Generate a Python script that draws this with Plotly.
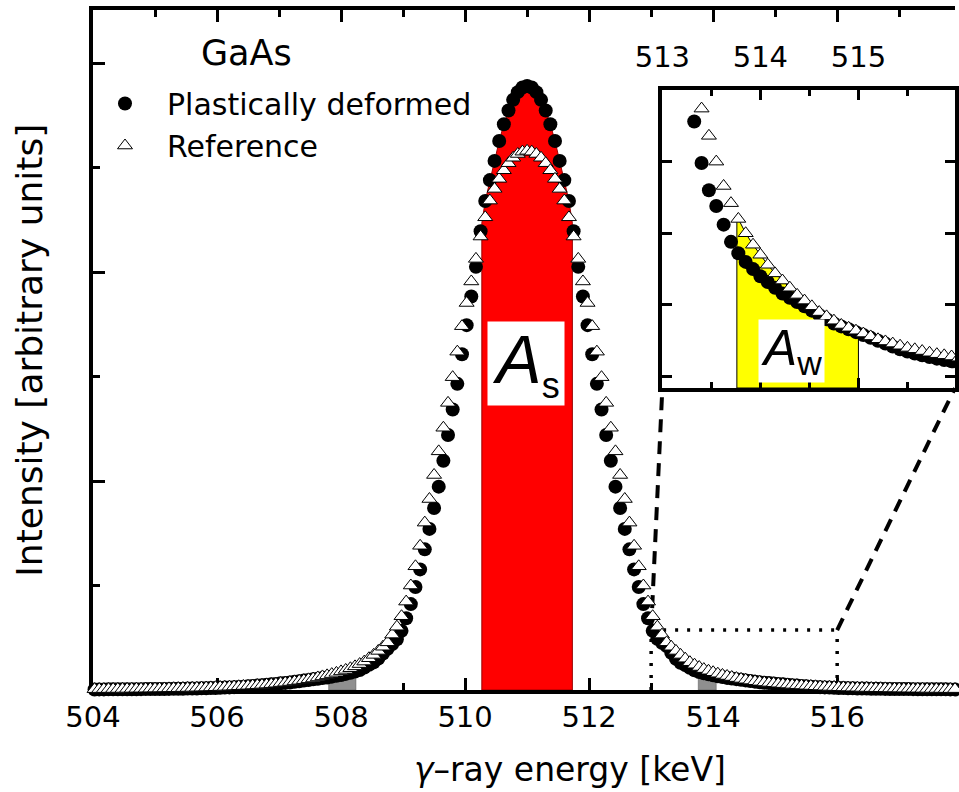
import numpy as np
import plotly.graph_objects as go

# ---------------- data ----------------
# uniform detector channel grid around the 511 keV annihilation line (keV)
channel_index = np.arange(-93, 94)
energy_kev = np.round(511.0 + 0.075 * channel_index, 3)

# Plastically deformed GaAs (filled circles)
deformed = [
    0.0027, 0.0028, 0.0029, 0.0030, 0.0031, 0.0032, 0.0034, 0.0035, 0.0036, 0.0038,
    0.0040, 0.0042, 0.0044, 0.0046, 0.0048, 0.0050, 0.0053, 0.0056, 0.0059, 0.0062,
    0.0066, 0.0070, 0.0075, 0.0080, 0.0085, 0.0091, 0.0098, 0.0106, 0.0115, 0.0125,
    0.0136, 0.0148, 0.0160, 0.0175, 0.019, 0.021, 0.023, 0.025, 0.027, 0.029,
    0.032, 0.034, 0.036, 0.039, 0.042, 0.045, 0.048, 0.051, 0.054, 0.057,
    0.060, 0.064, 0.068, 0.072, 0.077, 0.082, 0.088, 0.096, 0.108, 0.121,
    0.132, 0.150, 0.174, 0.197, 0.220, 0.243, 0.283, 0.343, 0.411, 0.493,
    0.577, 0.673, 0.771, 0.871, 0.973, 1.097, 1.220, 1.342, 1.465, 1.607,
    1.746, 1.883, 2.025, 2.195, 2.340, 2.440, 2.532, 2.627, 2.707, 2.773,
    2.824, 2.861, 2.883, 2.890, 2.883, 2.861, 2.824,
    2.773, 2.707, 2.627, 2.532, 2.440, 2.340, 2.195, 2.025, 1.883, 1.746,
    1.607, 1.465, 1.342, 1.220, 1.097, 0.973, 0.871, 0.771, 0.673, 0.577,
    0.493, 0.411, 0.343, 0.283, 0.245, 0.226, 0.210, 0.178, 0.149, 0.130,
    0.119, 0.106, 0.094, 0.086, 0.080, 0.075, 0.070, 0.066, 0.062, 0.058,
    0.055, 0.052, 0.049, 0.046, 0.043, 0.040, 0.037, 0.035, 0.033, 0.031,
    0.029, 0.027, 0.025, 0.023, 0.021, 0.019, 0.0175, 0.016, 0.0148, 0.0136,
    0.0125, 0.0115, 0.0106, 0.0098, 0.0091, 0.0085, 0.0080, 0.0075, 0.0070, 0.0066,
    0.0062, 0.0059, 0.0056, 0.0053, 0.0050, 0.0048, 0.0046, 0.0044, 0.0042, 0.0040,
    0.0038, 0.0036, 0.0035, 0.0034, 0.0032, 0.0031, 0.0030, 0.0029, 0.0028, 0.0027,
]

# Reference GaAs (open triangles)
reference = [
    0.0039, 0.0041, 0.0042, 0.0044, 0.0046, 0.0048, 0.0050, 0.0052, 0.0054, 0.0057,
    0.0059, 0.0062, 0.0065, 0.0068, 0.0071, 0.0074, 0.0078, 0.0082, 0.0086, 0.0090,
    0.0095, 0.0100, 0.0106, 0.0112, 0.0118, 0.0125, 0.0132, 0.0140, 0.0148, 0.0156,
    0.0166, 0.0178, 0.0190, 0.0200, 0.0215, 0.0230, 0.0245, 0.0260, 0.0280, 0.0300,
    0.033, 0.035, 0.038, 0.041, 0.044, 0.047, 0.051, 0.055, 0.060, 0.065,
    0.070, 0.076, 0.082, 0.089, 0.096, 0.104, 0.113, 0.124, 0.136, 0.152,
    0.168, 0.187, 0.207, 0.228, 0.265, 0.303, 0.353, 0.423, 0.500, 0.592,
    0.690, 0.801, 0.914, 1.029, 1.142, 1.255, 1.374, 1.497, 1.619, 1.741,
    1.852, 1.955, 2.063, 2.170, 2.262, 2.342, 2.398, 2.446, 2.487, 2.521,
    2.547, 2.565, 2.576, 2.580, 2.576, 2.565, 2.547,
    2.521, 2.487, 2.446, 2.398, 2.342, 2.262, 2.170, 2.063, 1.955, 1.852,
    1.741, 1.619, 1.497, 1.374, 1.255, 1.142, 1.029, 0.914, 0.801, 0.690,
    0.592, 0.500, 0.423, 0.353, 0.303, 0.265, 0.228, 0.207, 0.187, 0.168,
    0.150, 0.133, 0.121, 0.110, 0.100, 0.092, 0.085, 0.078, 0.072, 0.067,
    0.062, 0.057, 0.053, 0.049, 0.045, 0.042, 0.039, 0.036, 0.034, 0.032,
    0.030, 0.028, 0.026, 0.0245, 0.023, 0.0215, 0.020, 0.019, 0.0178, 0.0166,
    0.0156, 0.0148, 0.0140, 0.0132, 0.0125, 0.0118, 0.0112, 0.0106, 0.0100, 0.0095,
    0.0090, 0.0086, 0.0082, 0.0078, 0.0074, 0.0071, 0.0068, 0.0065, 0.0062, 0.0059,
    0.0057, 0.0054, 0.0052, 0.0050, 0.0048, 0.0046, 0.0044, 0.0042, 0.0041, 0.0039,
]

series_names = ["Plastically deformed", "Reference"]
s_window = (510.27, 511.73)                          # A_s (central) window, keV
w_window = (513.76, 515.00)                          # A_w (wing) window, keV
grey_windows = [(507.80, 508.24), (513.76, 514.05)]  # grey wing marks on the main plot
zoom_box = dict(x0=513.0, x1=516.0, y1=0.287)

main_x_range = [504.0, 517.9]
main_y_range = [0.0, 3.254]
inset_x_range = [513.0, 515.985]
inset_y_range = [-0.008, 0.2]
inset_dom_x = [0.6605, 1.0]
inset_dom_y = [0.4441, 0.8824]

FONT = "DejaVu Sans"


def window_polygon(x, y, lo, hi, base):
    x = np.asarray(x, dtype=float)
    y = np.asarray(y, dtype=float)
    inside = (x > lo) & (x < hi)
    xs = np.concatenate([[lo, lo], x[inside], [hi, hi, lo]])
    ys = np.concatenate([[base, np.interp(lo, x, y)], y[inside],
                         [np.interp(hi, x, y), base, base]])
    return xs, ys


fig = go.Figure()

# --- main plot fills ---
for lo, hi in grey_windows:
    gx, gy = window_polygon(energy_kev, deformed, lo, hi, 0.0)
    fig.add_trace(go.Scatter(x=gx, y=gy, mode="lines", fill="toself",
                             fillcolor="#8f8f8f", line=dict(color="#555555", width=0.5),
                             showlegend=False, hoverinfo="skip", xaxis="x", yaxis="y"))

sx, sy = window_polygon(energy_kev, deformed, s_window[0], s_window[1], 0.0)
fig.add_trace(go.Scatter(x=sx, y=sy, mode="lines", fill="toself",
                         fillcolor="#ff0000", line=dict(color="#9b0000", width=1),
                         showlegend=False, hoverinfo="skip", xaxis="x", yaxis="y"))

circle_marker = dict(symbol="circle", size=14, color="black", line=dict(width=0))
tri_marker = dict(symbol="triangle-up", size=13, color="white",
                  line=dict(color="black", width=1))

fig.add_trace(go.Scatter(x=energy_kev, y=deformed, mode="markers", name=series_names[0],
                         marker=circle_marker, cliponaxis=False, xaxis="x", yaxis="y"))
fig.add_trace(go.Scatter(x=energy_kev, y=reference, mode="markers", name=series_names[1],
                         marker=tri_marker, cliponaxis=False, xaxis="x", yaxis="y"))

# --- inset ---
yx, yy = window_polygon(energy_kev, reference, w_window[0], w_window[1], inset_y_range[0])
fig.add_trace(go.Scatter(x=yx, y=yy, mode="lines", fill="toself",
                         fillcolor="#ffff00", line=dict(color="black", width=1),
                         showlegend=False, hoverinfo="skip", xaxis="x2", yaxis="y2"))
fig.add_trace(go.Scatter(x=energy_kev, y=deformed, mode="markers", showlegend=False,
                         marker=circle_marker, cliponaxis=True, xaxis="x2", yaxis="y2"))
fig.add_trace(go.Scatter(x=energy_kev, y=reference, mode="markers", showlegend=False,
                         marker=tri_marker, cliponaxis=True, xaxis="x2", yaxis="y2"))


# --- zoom box and connector lines ---
def main_to_paper(e, v):
    px = (e - main_x_range[0]) / (main_x_range[1] - main_x_range[0])
    py = (v - main_y_range[0]) / (main_y_range[1] - main_y_range[0])
    return px, py


dot = dict(color="black", width=3.5, dash="3px,9px")
dash = dict(color="black", width=4, dash="13px,9px")
shapes = [
    dict(type="line", xref="x", yref="y", x0=zoom_box["x0"], x1=zoom_box["x0"],
         y0=0, y1=zoom_box["y1"], line=dot, layer="below"),
    dict(type="line", xref="x", yref="y", x0=zoom_box["x0"], x1=zoom_box["x1"],
         y0=zoom_box["y1"], y1=zoom_box["y1"], line=dot, layer="below"),
    dict(type="line", xref="x", yref="y", x0=zoom_box["x1"], x1=zoom_box["x1"],
         y0=0, y1=zoom_box["y1"], line=dot, layer="below"),
]
p0 = main_to_paper(zoom_box["x0"], zoom_box["y1"])
p1 = main_to_paper(zoom_box["x1"], zoom_box["y1"])
shapes.append(dict(type="line", xref="paper", yref="paper", x0=p0[0], y0=p0[1],
                   x1=inset_dom_x[0], y1=inset_dom_y[0], line=dash, layer="below"))
shapes.append(dict(type="line", xref="paper", yref="paper", x0=p1[0], y0=p1[1],
                   x1=inset_dom_x[1], y1=inset_dom_y[0], line=dash, layer="below"))

annotations = [
    dict(text="GaAs", xref="paper", yref="paper", x=0.1778, y=0.9368,
         xanchor="center", yanchor="middle", showarrow=False,
         font=dict(family=FONT, size=35, color="black")),
    dict(text='<i>A</i><sub><span style="font-size:36px">s</span></sub>',
         xref="x", yref="y", x=510.98, y=1.562, showarrow=False,
         font=dict(family="Liberation Sans", size=68, color="black"),
         bgcolor="white", width=72, height=79, borderpad=2, align="center", valign="middle"),
    dict(text='<i>A</i><sub><span style="font-size:34px">w</span></sub>',
         xref="x2", yref="y2", x=514.32, y=0.018, showarrow=False,
         font=dict(family="Liberation Sans", size=50, color="black"),
         bgcolor="white", width=61, height=58, borderpad=2, align="center", valign="middle"),
    dict(text="<i>γ</i>–ray energy [keV]", xref="paper", yref="paper",
         x=0.5531, y=-0.1176, xanchor="center", yanchor="middle", showarrow=False,
         font=dict(family=FONT, size=33, color="black")),
    dict(text="Intensity [arbitrary units]", xref="paper", yref="paper",
         x=-0.0745, y=0.5, xanchor="center", yanchor="middle", textangle=-90,
         showarrow=False, font=dict(family=FONT, size=36, color="black")),
]

tickfont = dict(family=FONT, size=29, color="black")
fig.update_layout(
    width=959, height=792,
    margin=dict(l=93, r=0, t=10, b=102),
    paper_bgcolor="white", plot_bgcolor="rgba(0,0,0,0)",
    font=dict(family=FONT, color="black"),
    showlegend=True,
    legend=dict(x=-0.0116, y=0.9007, xanchor="left", yanchor="top",
                font=dict(family=FONT, size=30, color="black"),
                bgcolor="rgba(0,0,0,0)", itemwidth=74, borderwidth=0),
    xaxis=dict(domain=[0, 1], range=main_x_range, anchor="y",
               showline=True, linewidth=4, linecolor="black", mirror="ticks",
               ticks="inside", ticklen=12, tickwidth=3, tickcolor="black",
               tick0=504, dtick=2,
               minor=dict(ticks="inside", ticklen=7, tickwidth=3, dtick=1, tickcolor="black"),
               tickfont=tickfont, ticklabelstandoff=-2,
               showgrid=False, zeroline=False, layer="below traces"),
    yaxis=dict(domain=[0, 1], range=main_y_range, anchor="x",
               showline=True, linewidth=4, linecolor="black",
               ticks="inside", ticklen=12, tickwidth=3, tickcolor="black",
               tick0=0, dtick=1,
               minor=dict(ticks="inside", ticklen=7, tickwidth=3, dtick=0.5, tickcolor="black"),
               showticklabels=False, showgrid=False, zeroline=False, layer="below traces"),
    xaxis2=dict(domain=inset_dom_x, range=inset_x_range, anchor="y2", side="top",
                showline=True, linewidth=3.5, linecolor="black", mirror="ticks",
                ticks="inside", ticklen=10, tickwidth=3, tickcolor="black",
                tick0=513, dtick=1,
                minor=dict(ticks="inside", ticklen=6, tickwidth=3, dtick=0.5, tickcolor="black"),
                tickfont=tickfont, ticklabelstandoff=8,
                showgrid=False, zeroline=False),
    yaxis2=dict(domain=inset_dom_y, range=inset_y_range, anchor="x2",
                showline=True, linewidth=3.5, linecolor="black", mirror="ticks",
                ticks="inside", ticklen=10, tickwidth=3, tickcolor="black",
                tickvals=[0, 0.05, 0.1, 0.15],
                showticklabels=False, showgrid=False, zeroline=False),
    shapes=shapes,
    annotations=annotations,
)

fig.write_html(
    "out.html",
    config={"displayModeBar": False},
    post_script="document.body.style.margin='0';document.body.style.overflow='hidden';",
)
